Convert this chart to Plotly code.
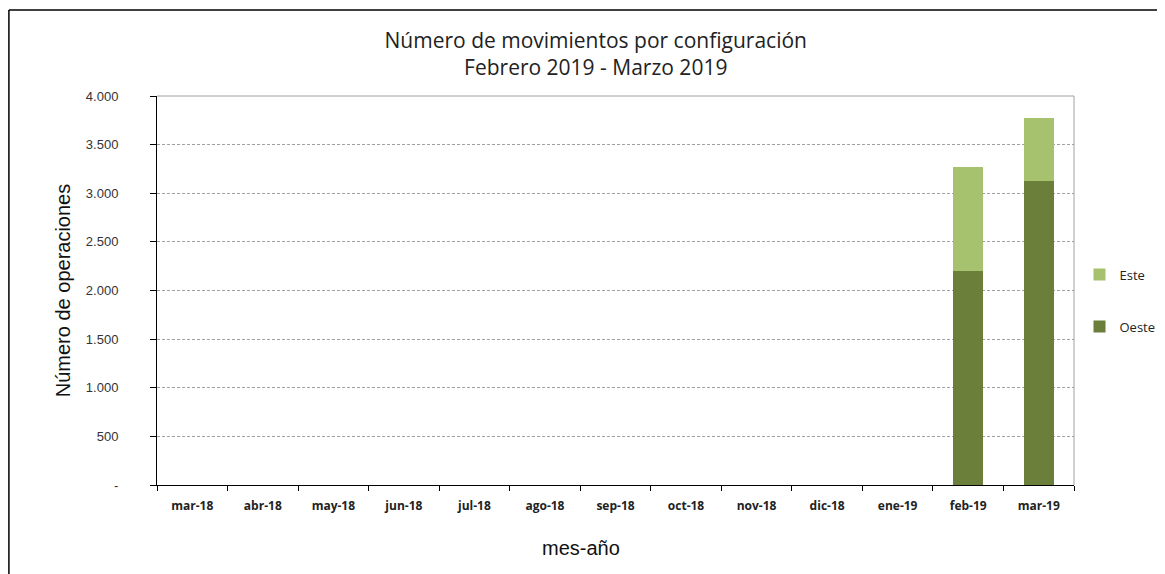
import plotly.graph_objects as go

months = ["mar-18", "abr-18", "may-18", "jun-18", "jul-18", "ago-18", "sep-18",
          "oct-18", "nov-18", "dic-18", "ene-19", "feb-19", "mar-19"]
oeste = [None, None, None, None, None, None, None, None, None, None, None, 2200, 3130]
este = [None, None, None, None, None, None, None, None, None, None, None, 1070, 640]
ytick_vals = [0, 500, 1000, 1500, 2000, 2500, 3000, 3500, 4000]
ytick_text = ["-", "500", "1.000", "1.500", "2.000", "2.500", "3.000", "3.500", "4.000"]

fig = go.Figure()
fig.add_trace(go.Bar(x=months, y=oeste, name="Oeste", marker_color="#6B7F3A",
                     marker_line_width=0, legendgroup="o", legendrank=2))
fig.add_trace(go.Bar(x=months, y=este, name="Este", marker_color="#A6C26E",
                     marker_line_width=0, legendgroup="e", legendrank=1))

fig.update_layout(
    width=1157, height=566,
    barmode="stack", bargap=0.58,
    plot_bgcolor="white", paper_bgcolor="white",
    margin=dict(l=149, r=91, t=88, b=89, autoexpand=False),
    title=dict(text="Número de movimientos por configuración<br>Febrero 2019 - Marzo 2019",
               x=0.508, xanchor="center", y=0.93, yanchor="top",
               font=dict(family="Open Sans", size=21, color="#222222")),
    legend=dict(x=1.006, xanchor="left", y=0.474, yanchor="middle",
                traceorder="grouped", tracegroupgap=32,
                bgcolor="rgba(0,0,0,0)",
                font=dict(family="Open Sans", size=13, color="#222222"),
                itemwidth=30),
    showlegend=True,
)
fig.update_xaxes(
    type="category", tickson="boundaries", ticks="outside", ticklen=5,
    tickcolor="black", showline=True, linecolor="black", linewidth=1,
    mirror=False, showgrid=False, automargin=False, ticklabelstandoff=10,
    tickfont=dict(family="Open Sans", size=12, color="#222222", weight="bold"),
)
fig.update_yaxes(
    range=[0, 4000], tickvals=ytick_vals, ticktext=ytick_text,
    ticks="outside", ticklen=6, tickcolor="black",
    showline=True, linecolor="black", linewidth=1,
    showgrid=True, gridcolor="#A0A0A0", griddash="3px,2px", gridwidth=1,
    zeroline=False, automargin=False, ticklabelstandoff=29,
    tickfont=dict(family="Liberation Sans", size=13, color="#333333"),
    title=dict(text="Número de operaciones", font=dict(family="Liberation Sans Narrow, Liberation Sans", size=20, color="#111111"),
               standoff=9),
)
# x axis title (offset left of plot centre as in the reference)
fig.add_annotation(text="mes-año", xref="paper", yref="paper", x=0.462, y=-0.162,
                   xanchor="center", yanchor="middle", showarrow=False,
                   font=dict(family="Liberation Sans Narrow, Liberation Sans", size=20, color="#111111"))
# gray border for top and right of the plot area
fig.add_shape(type="line", xref="paper", yref="paper", x0=0, x1=1, y0=1, y1=1,
              line=dict(color="#A0A0A0", width=1))
fig.add_shape(type="line", xref="paper", yref="paper", x0=1, x1=1, y0=0, y1=1,
              line=dict(color="#A0A0A0", width=1))
# outer frame (left and top)
fig.add_shape(type="line", xref="paper", yref="paper", x0=-0.1615, x1=-0.1615, y0=-0.25, y1=1.221,
              line=dict(color="black", width=1.5))
fig.add_shape(type="line", xref="paper", yref="paper", x0=-0.1615, x1=1.12, y0=1.221, y1=1.221,
              line=dict(color="black", width=1.5))

fig.write_html("out.html")
